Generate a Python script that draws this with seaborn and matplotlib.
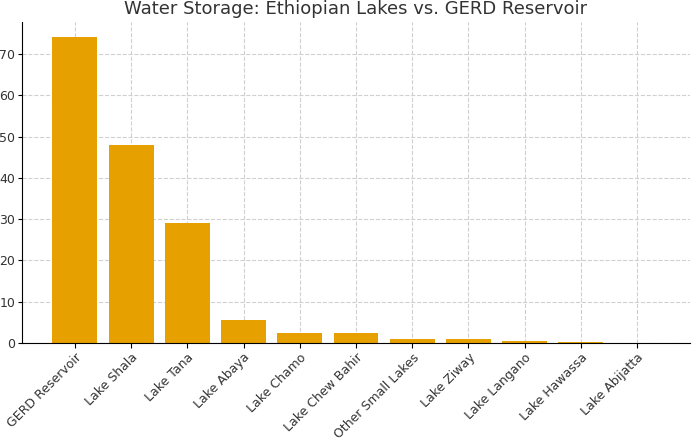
import matplotlib
matplotlib.use("Agg")
import matplotlib.pyplot as plt
import seaborn as sns
import pandas as pd

lakes = ["GERD Reservoir", "Lake Shala", "Lake Tana", "Lake Abaya", "Lake Chamo",
         "Lake Chew Bahir", "Other Small Lakes", "Lake Ziway", "Lake Langano",
         "Lake Hawassa", "Lake Abijatta"]
storage = [74, 48, 29, 5.7, 2.5, 2.5, 1.0, 0.9, 0.4, 0.3, 0.1]

df = pd.DataFrame({"lake": lakes, "storage": storage})

fig = plt.figure(figsize=(7, 4.41), dpi=100)
ax = fig.add_axes([22/700, 0.222, 668/700, 0.728])
sns.barplot(data=df, x="lake", y="storage", color="#E6A000", saturation=1, width=0.8, ax=ax)
ax.set_xlim(-0.94, 10.94)
ax.set_ylim(0, 77.7)
ax.grid(True, linestyle="--", color="#d0d0d0", linewidth=0.8)
ax.set_axisbelow(True)
for s in ["top", "right"]:
    ax.spines[s].set_visible(False)
ax.set_xlabel("")
ax.set_ylabel("")
ax.set_title("Water Storage: Ethiopian Lakes vs. GERD Reservoir", fontsize=13, color="#333333")
plt.setp(ax.get_xticklabels(), rotation=45, ha="right", rotation_mode="anchor", fontsize=9, color="#333333")
ax.tick_params(axis="y", labelsize=9, labelcolor="#333333", pad=2, length=3)
ax.tick_params(axis="x", pad=2)
fig.savefig("out.png")
